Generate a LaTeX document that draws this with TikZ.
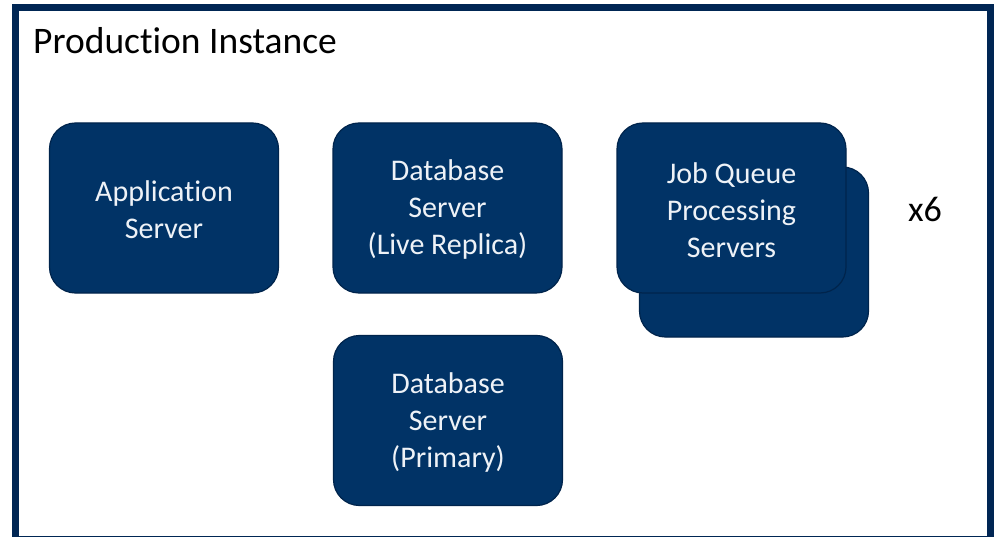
\documentclass[tikz,border=0pt]{standalone}
\usepackage{fontspec}
\setmainfont{Carlito}[Ligatures=NoCommon]
\definecolor{framenavy}{RGB}{0,38,84}
\definecolor{boxnavy}{RGB}{1,51,102}
\definecolor{boxedge}{RGB}{0,36,76}
\definecolor{boxtext}{RGB}{238,242,247}
\tikzset{
  server/.style={draw=boxedge, line width=1.2pt, fill=boxnavy, rounded corners=26pt,
    minimum width=229pt, minimum height=170pt, inner sep=0pt},
  servertext/.style={text=boxtext, align=center, yshift=-2pt, font=\fontsize{30}{37}\selectfont},
}
\begin{document}
\begin{tikzpicture}[x=1pt,y=-1pt]
  \useasboundingbox (0,0) rectangle (998,537);
  \begin{scope}
    \clip (0,0) rectangle (998,537);
    % outer instance frame (lower edge runs past the page)
    \draw[framenavy, line width=7pt] (15.5,7.5) rectangle (990,539.5);
  \end{scope}
  \node[anchor=base west, font=\fontsize{37.5}{44}\selectfont, inner sep=0pt] (title) at (33,54) {Production Instance};

  % servers
  \node[server] (app) at (164,208) {};
  \node[servertext] (apptext) at (app.center) {Application\\Server};

  \node[server] (replica) at (447.5,208) {};
  \node[servertext] (replicatext) at (replica.center) {Database\\Server\\(Live Replica)};

  \node[server] (jobsback) at (754,252) {};
  \node[server] (jobs) at (731.5,208) {};
  \node[servertext] (jobstext) at (jobs.center) {Job Queue\\Processing\\Servers};

  \node[anchor=center, font=\fontsize{36}{42}\selectfont] (count) at (925,209) {x6};

  \node[server] (primary) at (448,420.5) {};
  \node[servertext] (primarytext) at (primary.center) {Database\\Server\\(Primary)};
\end{tikzpicture}
\end{document}
